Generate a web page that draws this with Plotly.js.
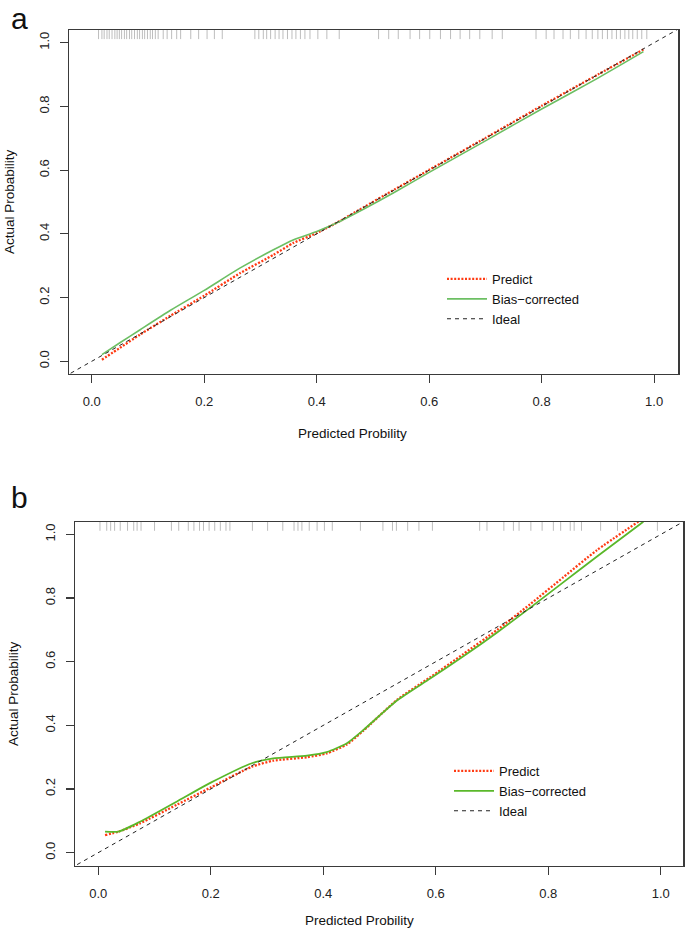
<!DOCTYPE html>
<html>
<head>
<meta charset="utf-8">
<script src="https://cdn.plot.ly/plotly-3.0.1.min.js"></script>
<style>html,body{margin:0;padding:0;background:#fff;}#chart{width:685px;height:933px;}</style>
</head>
<body>
<div id="chart"></div>
<script>
// ---------- Panel a data ----------
const aX = [0.018, 0.05, 0.086, 0.14, 0.2, 0.264, 0.323, 0.358, 0.4, 0.441, 0.483, 0.54, 0.6, 0.7, 0.8, 0.9, 0.981];
const aPredict = [0.005, 0.042, 0.084, 0.143, 0.206, 0.277, 0.334, 0.371, 0.4025, 0.44, 0.483, 0.541, 0.601, 0.701, 0.802, 0.9, 0.979];
const aBias = [0.021, 0.058, 0.099, 0.16, 0.2226, 0.293, 0.350, 0.381, 0.4075, 0.439, 0.477, 0.532, 0.593, 0.692, 0.792, 0.889, 0.972];
const aRug = [0.012,0.018,0.022,0.027,0.031,0.036,0.041,0.045,0.049,0.053,0.058,0.062,0.067,0.071,0.076,0.081,0.085,0.09,0.094,0.099,0.104,0.108,0.113,0.118,0.127,0.134,0.142,0.151,0.158,0.176,0.19,0.205,0.218,0.232,
  0.29,0.297,0.305,0.311,0.318,0.326,0.333,0.34,0.348,0.356,0.363,0.371,0.379,0.388,0.402,0.418,0.44,
  0.51,0.528,0.545,0.566,0.583,0.601,0.62,0.638,0.655,0.672,0.69,0.712,0.73,
  0.79,0.808,0.822,0.838,0.851,0.866,0.879,0.89,0.9,0.908,0.917,0.925,0.933,0.94,0.948,0.955,0.962,0.97,0.978,0.987];

// ---------- Panel b data ----------
const bXPredict = [0.012, 0.036, 0.074, 0.14, 0.2, 0.273, 0.311, 0.371, 0.406, 0.442, 0.471, 0.531, 0.59, 0.649, 0.709, 0.768, 0.827, 0.886, 0.96];
const bPredict = [0.055, 0.066, 0.092, 0.151, 0.205, 0.270, 0.289, 0.300, 0.312, 0.340, 0.383, 0.480, 0.551, 0.624, 0.700, 0.781, 0.866, 0.950, 1.04];
const bXBias = [0.012, 0.036, 0.074, 0.14, 0.2, 0.273, 0.311, 0.371, 0.406, 0.442, 0.471, 0.531, 0.59, 0.649, 0.709, 0.768, 0.827, 0.886, 0.969];
const bBias = [0.066, 0.066, 0.097, 0.161, 0.22, 0.281, 0.296, 0.305, 0.316, 0.344, 0.385, 0.478, 0.547, 0.617, 0.692, 0.770, 0.850, 0.930, 1.04];
const bRug = [0.003,0.015,0.022,0.029,0.039,0.052,0.063,0.069,0.076,0.1,0.13,0.143,0.16,0.17,0.18,0.187,0.197,0.207,0.217,0.227,0.234,
  0.274,0.301,0.328,0.348,0.355,0.362,0.375,0.389,0.402,0.416,0.466,0.506,0.523,0.53,0.55,0.57,0.594,
  0.678,0.691,0.721,0.738,0.748,0.769,0.789,0.809,0.822,0.839,0.846,0.859,0.893,0.923,0.994];

// Ideal line endpoints and axis ticks
const idealX = [-0.05, 1.05];
const idealY = [-0.05, 1.05];
const tickVals = [0, 0.2, 0.4, 0.6, 0.8, 1.0];
const tickText = ["0.0", "0.2", "0.4", "0.6", "0.8", "1.0"];
const labels = {predict: "Predict", bias: "Bias\u2212corrected", ideal: "Ideal"};

const RED = "#ff3a12";
const GREEN_A = "#6cbf63";
const GREEN_B = "#5ab82a";
const RUG = "#bdbdbd";

function rugTrace(vals, xa, ya) {
  return {x: vals, y: vals.map(() => 1.04), xaxis: xa, yaxis: ya, mode: "markers", type: "scatter",
    cliponaxis: true, showlegend: false, hoverinfo: "skip",
    marker: {symbol: "line-ns-open", size: 13, color: RUG, line: {color: RUG, width: 1}}};
}

const traces = [
  rugTrace(aRug, "x", "y"),
  {x: aX, y: aPredict, xaxis: "x", yaxis: "y", mode: "lines", name: labels.predict, legend: "legend",
    line: {color: RED, width: 2.3, dash: "2px,1.6px", shape: "spline", smoothing: 0.5}},
  {x: aX, y: aBias, xaxis: "x", yaxis: "y", mode: "lines", name: labels.bias, legend: "legend",
    line: {color: GREEN_A, width: 1.6, shape: "spline", smoothing: 0.6}},
  {x: idealX, y: idealY, xaxis: "x", yaxis: "y", mode: "lines", name: labels.ideal, legend: "legend",
    line: {color: "#222", width: 1, dash: "4px,4px"}},

  rugTrace(bRug, "x2", "y2"),
  {x: bXPredict, y: bPredict, xaxis: "x2", yaxis: "y2", mode: "lines", name: labels.predict, legend: "legend2",
    line: {color: RED, width: 2.3, dash: "2px,1.6px", shape: "spline", smoothing: 0.6}},
  {x: bXBias, y: bBias, xaxis: "x2", yaxis: "y2", mode: "lines", name: labels.bias, legend: "legend2",
    line: {color: GREEN_B, width: 1.8, shape: "spline", smoothing: 0.6}},
  {x: idealX, y: idealY, xaxis: "x2", yaxis: "y2", mode: "lines", name: labels.ideal, legend: "legend2",
    line: {color: "#222", width: 1, dash: "4px,4px"}}
];

const W = 685, H = 933;
const tickFont = {family: "Liberation Sans, Arial, sans-serif", size: 13, color: "#222"};
function xAxis(dom, range, anchor) {
  return {domain: dom, range: range, anchor: anchor, tickvals: tickVals, ticktext: tickText,
    showline: true, mirror: true, linecolor: "#3a3a3a", linewidth: 1.2,
    ticks: "outside", ticklen: 8, tickcolor: "#3a3a3a", tickwidth: 1.2,
    showgrid: false, zeroline: false, tickfont: tickFont, ticklabelstandoff: 7, fixedrange: true};
}
function yAxis(dom, range, anchor) {
  return {domain: dom, range: range, anchor: anchor, tickvals: tickVals, ticktext: tickText,
    showline: true, mirror: true, linecolor: "#3a3a3a", linewidth: 1.2,
    ticks: "outside", ticklen: 8, tickcolor: "#3a3a3a", tickwidth: 1.2, tickangle: -90,
    showgrid: false, zeroline: false, tickfont: tickFont, ticklabelstandoff: 6, fixedrange: true};
}

const titleFont = {family: "Liberation Sans, Arial, sans-serif", size: 13.5, color: "#111"};
const legendFont = {family: "Liberation Sans, Arial, sans-serif", size: 13, color: "#111"};

const layout = {
  width: W, height: H,
  margin: {l: 0, r: 0, t: 0, b: 0},
  paper_bgcolor: "#fff", plot_bgcolor: "#fff",
  xaxis: xAxis([69.3 / W, 678.3 / W], [-0.04, 1.043], "y"),
  yaxis: yAxis([1 - 374 / H, 1 - 30 / H], [-0.04, 1.04], "x"),
  xaxis2: xAxis([75 / W, 683.3 / W], [-0.0414, 1.04], "y2"),
  yaxis2: yAxis([1 - 865.7 / H, 1 - 521.7 / H], [-0.041, 1.04], "x2"),
  legend: {x: 442 / W, y: 1 - 264 / H, xanchor: "left", yanchor: "top", bgcolor: "rgba(0,0,0,0)",
    borderwidth: 0, font: legendFont, itemwidth: 40, tracegroupgap: 0},
  legend2: {x: 449 / W, y: 1 - 756 / H, xanchor: "left", yanchor: "top", bgcolor: "rgba(0,0,0,0)",
    borderwidth: 0, font: legendFont, itemwidth: 40, tracegroupgap: 0},
  annotations: [
    {text: "a", xref: "paper", yref: "paper", x: 9 / W, y: 1, xanchor: "left", yanchor: "top",
      showarrow: false, font: {family: "Liberation Sans, Arial, sans-serif", size: 30, color: "#111"}},
    {text: "b", xref: "paper", yref: "paper", x: 9 / W, y: 1 - 479 / H, xanchor: "left", yanchor: "top",
      showarrow: false, font: {family: "Liberation Sans, Arial, sans-serif", size: 30, color: "#111"}},
    {text: "Predicted Probility", xref: "paper", yref: "paper", x: 353 / W, y: 1 - 433 / H, xanchor: "center", yanchor: "middle",
      showarrow: false, font: titleFont},
    {text: "Predicted Probility", xref: "paper", yref: "paper", x: 359 / W, y: 1 - 920 / H, xanchor: "center", yanchor: "middle",
      showarrow: false, font: titleFont},
    {text: "Actual Probability", xref: "paper", yref: "paper", x: 9 / W, y: 1 - 202 / H, xanchor: "center", yanchor: "middle",
      textangle: -90, showarrow: false, font: titleFont},
    {text: "Actual Probability", xref: "paper", yref: "paper", x: 13 / W, y: 1 - 694 / H, xanchor: "center", yanchor: "middle",
      textangle: -90, showarrow: false, font: titleFont}
  ]
};

Plotly.newPlot("chart", traces, layout, {displayModeBar: false, staticPlot: true});
</script>
</body>
</html>
